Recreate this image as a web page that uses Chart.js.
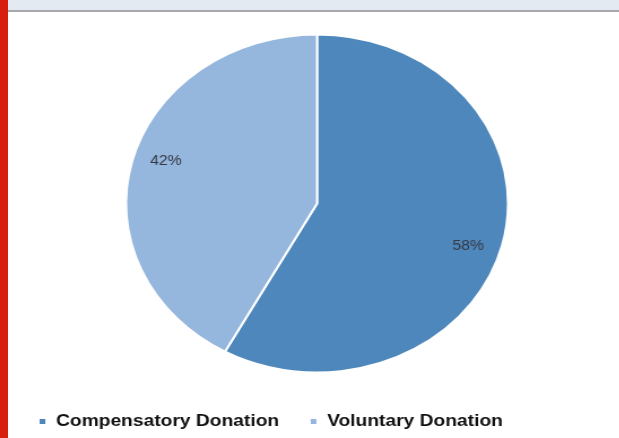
<!DOCTYPE html>
<html>
<head>
<meta charset="utf-8">
<script src="https://cdn.jsdelivr.net/npm/chart.js@4"></script>
<style>
  html, body { margin: 0; padding: 0; background: #fff; width: 619px; height: 438px; overflow: hidden; }
  #topband { position: absolute; left: 0; top: 0; width: 619px; height: 10px; background: #e4eaf2; border-bottom: 2px solid #a9a9ab; z-index: 2; }
  #redbar { position: absolute; left: 0; top: 0; width: 8px; height: 438px; background: #d61f0f; z-index: 3; }
  /* the original picture is stretched horizontally, so stretch the chart the same way */
  #wrap { position: absolute; left: 8px; top: 21px; width: 547px; height: 419px; transform: scaleX(1.13); transform-origin: 0 0; }
</style>
</head>
<body>
<div id="topband"></div>
<div id="redbar"></div>
<div id="wrap"><canvas id="pieChart"></canvas></div>
<script>
// データ
const labels = ['Compensatory Donation', 'Voluntary Donation'];
const values = [58, 42];
const colors = ['#4e87bc', '#95b6dd'];

// スライスの中にパーセント表示
const percentLabels = {
    id: 'percentLabels',
    afterDatasetsDraw(chart) {
        const ctx = chart.ctx;
        const meta = chart.getDatasetMeta(0);
        const total = values.reduce((a, b) => a + b, 0);
        ctx.save();
        ctx.font = '14px "Liberation Sans", Arial, sans-serif';
        ctx.fillStyle = '#353a44';
        ctx.textAlign = 'center';
        ctx.textBaseline = 'middle';
        meta.data.forEach((arc, i) => {
            const mid = (arc.startAngle + arc.endAngle) / 2 + 0.055;
            const r = arc.outerRadius * 0.83;
            const x = arc.x + Math.cos(mid) * r;
            const y = arc.y + Math.sin(mid) * r;
            ctx.fillText(Math.round(values[i] / total * 100) + '%', x, y);
        });
        ctx.restore();
    }
};

const pieChart = new Chart(document.getElementById('pieChart'), {
    type: 'pie',
    data: {
        labels: labels,
        datasets: [{
            data: values,
            backgroundColor: colors,
            borderColor: '#ffffff',
            borderWidth: 2,
            radius: 169
        }]
    },
    options: {
        responsive: true,
        maintainAspectRatio: false,
        animation: false,
        layout: { padding: 0 },
        plugins: {
            tooltip: { enabled: false },
            legend: {
                position: 'bottom',
                align: 'start',
                labels: {
                    boxWidth: 7,
                    boxHeight: 7,
                    padding: 27,
                    color: '#111111',
                    font: { family: '"Liberation Sans", Arial, sans-serif', size: 17, weight: 'bold' }
                }
            }
        }
    },
    plugins: [percentLabels]
});
</script>
</body>
</html>
